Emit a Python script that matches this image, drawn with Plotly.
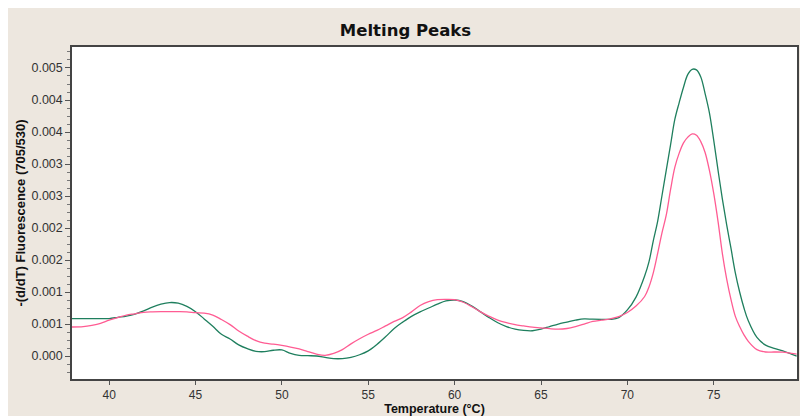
import plotly.graph_objects as go

# ---------------- data ----------------
temperature = [37.8, 38.5, 39.0, 39.5, 40.0, 40.5, 41.0, 41.5, 42.0, 42.5, 43.0, 43.5, 44.0, 44.5,
               45.0, 45.5, 46.0, 46.5, 47.0, 47.5, 48.0, 48.5, 49.0, 49.5, 50.0, 50.5, 51.0, 51.5,
               52.0, 52.5, 53.0, 53.5, 54.0, 54.5, 55.0, 55.5, 56.0, 56.5, 57.0, 57.5, 58.0, 58.5,
               59.0, 59.5, 60.0, 60.5, 61.0, 61.5, 62.0, 62.5, 63.0, 63.5, 64.0, 64.5, 65.0, 65.5,
               66.0, 66.5, 67.0, 67.5, 68.0, 68.5, 69.0, 69.5, 70.0, 70.5, 71.0, 71.25, 71.5, 71.75,
               72.0, 72.25, 72.5, 72.75, 73.0, 73.25, 73.5, 73.75, 74.0, 74.25, 74.5, 74.75, 75.0,
               75.25, 75.5, 75.75, 76.0, 76.25, 76.5, 76.75, 77.0, 77.5, 78.0, 78.5, 79.0, 79.5, 79.8]

green_sample = [0.000583, 0.000583, 0.000583, 0.000583, 0.000585, 0.000605, 0.000625, 0.000656,
                0.000705, 0.000765, 0.000810, 0.000835, 0.000825, 0.000775, 0.000693, 0.000580,
                0.000465, 0.000340, 0.000265, 0.000175, 0.000115, 0.000073, 0.000068, 0.000090,
                0.000095, 0.000040, 0.000010, 0.000005, 0.000000, -0.000020, -0.000040, -0.000040,
                -0.000020, 0.000020, 0.000080, 0.000180, 0.000300, 0.000430, 0.000530, 0.000620,
                0.000690, 0.000750, 0.000810, 0.000860, 0.000875, 0.000850, 0.000780, 0.000690,
                0.000600, 0.000520, 0.000460, 0.000420, 0.000400, 0.000395, 0.000420, 0.000460,
                0.000500, 0.000530, 0.000560, 0.000580, 0.000575, 0.000573, 0.000573, 0.000600,
                0.000720, 0.000920, 0.001250, 0.001470, 0.001800, 0.002100, 0.002500, 0.002900,
                0.003300, 0.003700, 0.003960, 0.004200, 0.004400, 0.004480, 0.004470, 0.004360,
                0.004100, 0.003800, 0.003370, 0.002900, 0.002450, 0.002050, 0.001680, 0.001300,
                0.001000, 0.000750, 0.000550, 0.000290, 0.000170, 0.000120, 0.000080, 0.000030,
                0.000000]

pink_sample = [0.000453, 0.000460, 0.000480, 0.000510, 0.000560, 0.000600, 0.000640, 0.000660,
               0.000683, 0.000690, 0.000693, 0.000693, 0.000693, 0.000690, 0.000677, 0.000670,
               0.000640, 0.000570, 0.000490, 0.000390, 0.000310, 0.000240, 0.000200, 0.000185,
               0.000165, 0.000140, 0.000110, 0.000070, 0.000030, 0.000010, 0.000040, 0.000100,
               0.000190, 0.000270, 0.000340, 0.000400, 0.000470, 0.000540, 0.000600, 0.000690,
               0.000790, 0.000850, 0.000880, 0.000885, 0.000880, 0.000840, 0.000770, 0.000690,
               0.000620, 0.000560, 0.000520, 0.000490, 0.000470, 0.000450, 0.000440, 0.000427,
               0.000420, 0.000430, 0.000460, 0.000500, 0.000540, 0.000560, 0.000580, 0.000615,
               0.000680, 0.000780, 0.000930, 0.001080, 0.001300, 0.001600, 0.001920, 0.002200,
               0.002600, 0.002950, 0.003170, 0.003330, 0.003420, 0.003470, 0.003450, 0.003350,
               0.003180, 0.002900, 0.002540, 0.002100, 0.001600, 0.001200, 0.000880, 0.000620,
               0.000460, 0.000330, 0.000230, 0.000100, 0.000063, 0.000063, 0.000060, 0.000040,
               0.000030]

y_tick_values = [0.0, 0.0005, 0.0010, 0.0015, 0.0020, 0.0025, 0.0030, 0.0035, 0.0040, 0.0045]
y_tick_labels = ["0.000", "0.001", "0.001", "0.002", "0.002", "0.003", "0.003", "0.004", "0.004", "0.005"]
x_tick_values = [40, 45, 50, 55, 60, 65, 70, 75]

# ---------------- figure ----------------
# the page body adds an 8px white margin at top/left
W, H = 800, 408
L, R, T, B = 64, 11, 39, 37
BEIGE = "#EDE7DF"

fig = go.Figure()
fig.add_trace(go.Scatter(x=temperature, y=green_sample, mode="lines", line=dict(color="#1F7F5E", width=1.3),
                         line_shape="spline", showlegend=False))
fig.add_trace(go.Scatter(x=temperature, y=pink_sample, mode="lines", line=dict(color="#FF5C93", width=1.3),
                         line_shape="spline", showlegend=False))

fig.update_layout(
    width=W, height=H,
    margin=dict(l=L, r=R, t=T, b=B, pad=0, autoexpand=False),
    paper_bgcolor=BEIGE, plot_bgcolor="white",
    font=dict(family="Liberation Sans, Arial, sans-serif", size=12, color="#222"),
    title=dict(text="<b>Melting Peaks</b>", x=397.5 / W, xanchor="center", xref="container",
               y=1 - 22 / H, yanchor="middle", yref="container",
               font=dict(family="DejaVu Sans", size=16.5, color="#111")),
)

fig.update_xaxes(range=[37.85, 79.82], tickvals=x_tick_values, ticks="outside", ticklen=4, tickwidth=1,
                 tickcolor="#555", showgrid=False, zeroline=False, showline=True, linecolor="#444",
                 linewidth=1.5, mirror=True, automargin=False,
                 title=dict(text="<b>Temperature (°C)</b>", standoff=2,
                            font=dict(family="Liberation Sans", size=12.5, color="#111")),
                 tickfont=dict(size=12, color="#333"))
fig.update_yaxes(range=[-0.000359, 0.004828], tickvals=y_tick_values, ticktext=y_tick_labels,
                 ticks="outside", ticklen=5, tickwidth=1, tickcolor="#555",
                 minor=dict(tickvals=[i * 0.000125 for i in range(-2, 39)], ticks="outside", ticklen=3,
                            tickcolor="#777", showgrid=False),
                 showgrid=False, zeroline=False, showline=True, linecolor="#444", linewidth=1.5, mirror=True,
                 automargin=False,
                 title=dict(text="<b>-(d/dT) Fluorescence (705/530)</b>", standoff=3,
                            font=dict(family="Liberation Sans", size=13, color="#111")),
                 tickfont=dict(size=12.5, color="#333"))

fig.write_html("out.html")
